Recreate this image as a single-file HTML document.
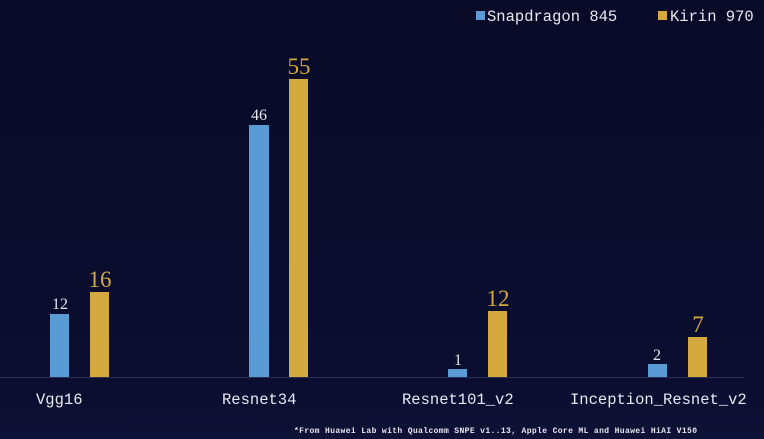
<!DOCTYPE html>
<html><head><style>
html,body{margin:0;padding:0;background:#090b29;}
svg{display:block}
.m{font-family:"Liberation Mono",monospace;fill:#e6e8f0}
.s{font-family:"Liberation Serif",serif}
</style></head><body>
<svg width="764" height="439" viewBox="0 0 764 439" xmlns="http://www.w3.org/2000/svg">
<defs><linearGradient id="g" x1="0" y1="0" x2="0" y2="1">
<stop offset="0" stop-color="#080a27"/><stop offset="0.9" stop-color="#0b0e30"/><stop offset="1" stop-color="#0e1236"/></linearGradient></defs>
<rect width="764" height="439" fill="url(#g)"/>
<line x1="0" y1="377.5" x2="745" y2="377.5" stroke="#2a3050" stroke-width="1"/>
<g fill="#5b9bd5">
<rect x="50" y="314" width="19" height="63"/>
<rect x="249" y="125" width="20" height="252"/>
<rect x="448" y="369" width="19" height="8"/>
<rect x="648" y="364" width="19" height="13"/>
</g>
<g fill="#d4aa3f">
<rect x="90" y="292" width="19" height="85"/>
<rect x="289" y="79" width="19" height="298"/>
<rect x="488" y="311" width="19" height="66"/>
<rect x="688" y="337" width="19" height="40"/>
</g>
<g class="s" fill="#e6e8f0" font-size="16" text-anchor="middle">
<text x="60" y="309">12</text>
<text x="259" y="120">46</text>
<text x="458" y="365">1</text>
<text x="657" y="360">2</text>
</g>
<g class="s" fill="#d4aa3f" font-size="23" text-anchor="middle">
<text x="100" y="287">16</text>
<text x="299" y="74">55</text>
<text x="498" y="306">12</text>
<text x="698" y="332">7</text>
</g>
<g class="m" font-size="15.5">
<text x="36" y="404">Vgg16</text>
<text x="222" y="404">Resnet34</text>
<text x="402" y="404">Resnet101_v2</text>
<text x="570" y="404">Inception_Resnet_v2</text>
</g>
<rect x="476" y="11" width="9" height="9" fill="#5b9bd5"/>
<text class="m" x="487" y="21" font-size="15.5">Snapdragon 845</text>
<rect x="658" y="11" width="9" height="9" fill="#d4aa3f"/>
<text class="m" x="670" y="21" font-size="15.5">Kirin 970</text>
<text class="m" x="294" y="433" font-size="8" font-weight="bold" textLength="403">*From Huawei Lab with Qualcomm SNPE v1..13, Apple Core ML and Huawei HiAI V150</text>
</svg>
</body></html>
